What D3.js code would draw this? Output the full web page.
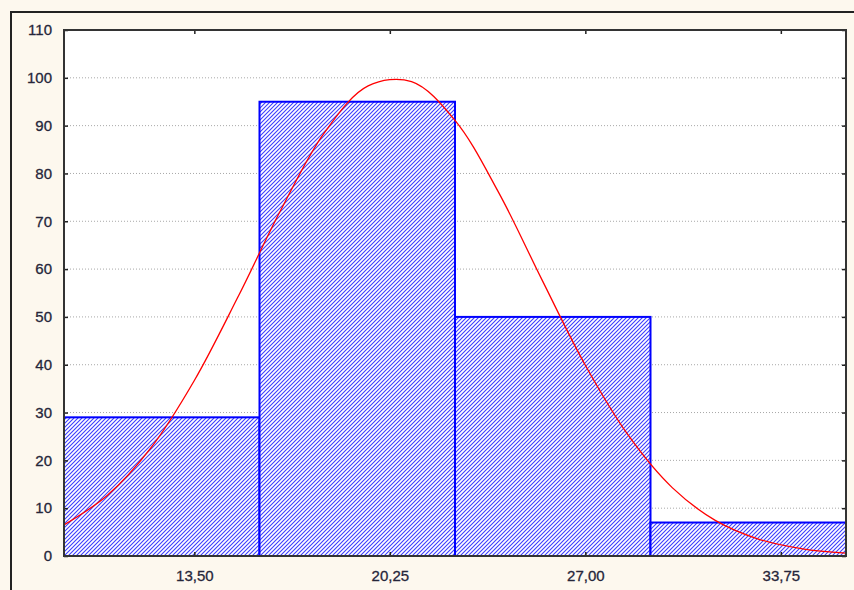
<!DOCTYPE html>
<head>
<meta charset="utf-8">
<style>
  body { margin:0; background:#fdf8ee; }
  svg { display:block; }
  .grid line { stroke:#a8a8a8; stroke-dasharray:1,2; }
</style>
</head>
<body>
<script src="https://cdn.jsdelivr.net/npm/d3@7"></script>
<script>

var width = 854,
    height = 590;

// histogram bins (lower edge, upper edge) and counts
var binEdges = [9, 15.75, 22.5, 29.25, 36];
var counts = [29, 95, 50, 7];

// x tick labels
var xTicks = [13.5, 20.25, 27, 33.75];
var yTicks = [0, 10, 20, 30, 40, 50, 60, 70, 80, 90, 100, 110];

// fitted normal curve
var curveX = [9, 10.5, 12, 13.5, 15, 16.5, 18, 19.5, 21, 22.5, 24, 25.5, 27, 28.5, 30, 31.5, 33, 34.5, 36];
var curveY = [6.5, 12.7, 22.6, 36.7, 54.1, 72.5, 88.6, 98.3, 99.2, 91.1, 76.1, 57.8, 39.9, 25.1, 14.3, 7.4, 3.5, 1.5, 0.6];

var margin = {left:64, right:8, top:30, bottom:34};

var x = d3.scaleLinear()
    .domain([9, 36])
    .range([margin.left, width - margin.right]);

var y = d3.scaleLinear()
    .domain([0, 110])
    .range([height - margin.bottom, margin.top]);

var svg = d3.select("body").append("svg")
    .attr("width", width)
    .attr("height", height);

var defs = svg.append("defs");
var hatch = defs.append("pattern")
    .attr("id", "hatch")
    .attr("patternUnits", "userSpaceOnUse")
    .attr("width", 4)
    .attr("height", 4);
hatch.append("rect").attr("width", 4).attr("height", 4).attr("fill", "#fff");
hatch.append("path")
    .attr("d", "M-1,1 l2,-2 M0,4 l4,-4 M3,5 l2,-2")
    .attr("stroke", "#3c3cff")
    .attr("stroke-width", 1.1);

// outer frame
svg.append("path")
    .attr("d", "M11," + height + " V12 H" + width)
    .attr("fill", "none")
    .attr("stroke", "#222")
    .attr("stroke-width", 2);

// plot background
svg.append("rect")
    .attr("x", x.range()[0]).attr("y", y(110))
    .attr("width", x.range()[1] - x.range()[0])
    .attr("height", y(0) - y(110))
    .attr("fill", "#fff");

// grid
svg.append("g")
    .attr("class", "grid")
    .selectAll("line")
    .data(yTicks.filter(function(d) { return d > 0 && d < 110; }))
    .enter().append("line")
    .attr("x1", x.range()[0]).attr("x2", x.range()[1])
    .attr("y1", function(d) { return y(d); })
    .attr("y2", function(d) { return y(d); });

// bars
var bins = counts.map(function(c, i) { return {x0:binEdges[i], x1:binEdges[i + 1], n:c}; });
svg.selectAll(".bar")
    .data(bins)
    .enter().append("rect")
    .attr("class", "bar")
    .attr("x", function(d) { return x(d.x0); })
    .attr("y", function(d) { return y(d.n); })
    .attr("width", function(d) { return x(d.x1) - x(d.x0); })
    .attr("height", function(d) { return y(0) - y(d.n); })
    .attr("fill", "url(#hatch)")
    .attr("stroke", "#0000ff")
    .attr("stroke-width", 2);

// normal curve
var line = d3.line()
    .x(function(d) { return x(d[0]); })
    .y(function(d) { return y(d[1]); })
    .curve(d3.curveCatmullRom.alpha(0.5));

svg.append("path")
    .datum(d3.zip(curveX, curveY))
    .attr("d", line)
    .attr("fill", "none")
    .attr("stroke", "#ff0000")
    .attr("stroke-width", 1.3);

// axes
var xAxis = svg.append("g")
    .attr("transform", "translate(0," + y(0) + ")")
    .call(d3.axisBottom(x).tickValues(xTicks).tickSize(-4).tickPadding(14)
      .tickFormat(function(d) { return d3.format(".2f")(d).replace(".", ","); }));

var yAxis = svg.append("g")
    .attr("transform", "translate(" + x.range()[0] + ",0)")
    .call(d3.axisLeft(y).tickValues(yTicks).tickSize(-4).tickPadding(12));

var yRight = svg.append("g")
    .attr("transform", "translate(" + x.range()[1] + ",0)")
    .call(d3.axisRight(y).tickValues(yTicks).tickSize(-4).tickFormat(""));

var xTop = svg.append("g")
    .attr("transform", "translate(0," + y(110) + ")")
    .call(d3.axisTop(x).tickValues(xTicks).tickSize(-4).tickFormat(""));

[xAxis, yAxis, yRight, xTop].forEach(function(g) {
  g.select(".domain").remove();
  g.selectAll(".tick line").attr("stroke", "#222").attr("stroke-width", 1.5);
});

[xAxis, yAxis].forEach(function(g) {
  g.attr("font-size", null).attr("font-family", null);
  g.selectAll(".tick text")
    .style("font-family", "'Liberation Sans', Arial, sans-serif")
    .style("font-size", "15px")
    .style("fill", "#26263a")
    .style("stroke", "#26263a")
    .style("stroke-width", "0.3px");
});

// plot border
svg.append("rect")
    .attr("x", x.range()[0]).attr("y", y(110))
    .attr("width", x.range()[1] - x.range()[0])
    .attr("height", y(0) - y(110))
    .attr("fill", "none")
    .attr("stroke", "#333")
    .attr("stroke-width", 2);

</script>
